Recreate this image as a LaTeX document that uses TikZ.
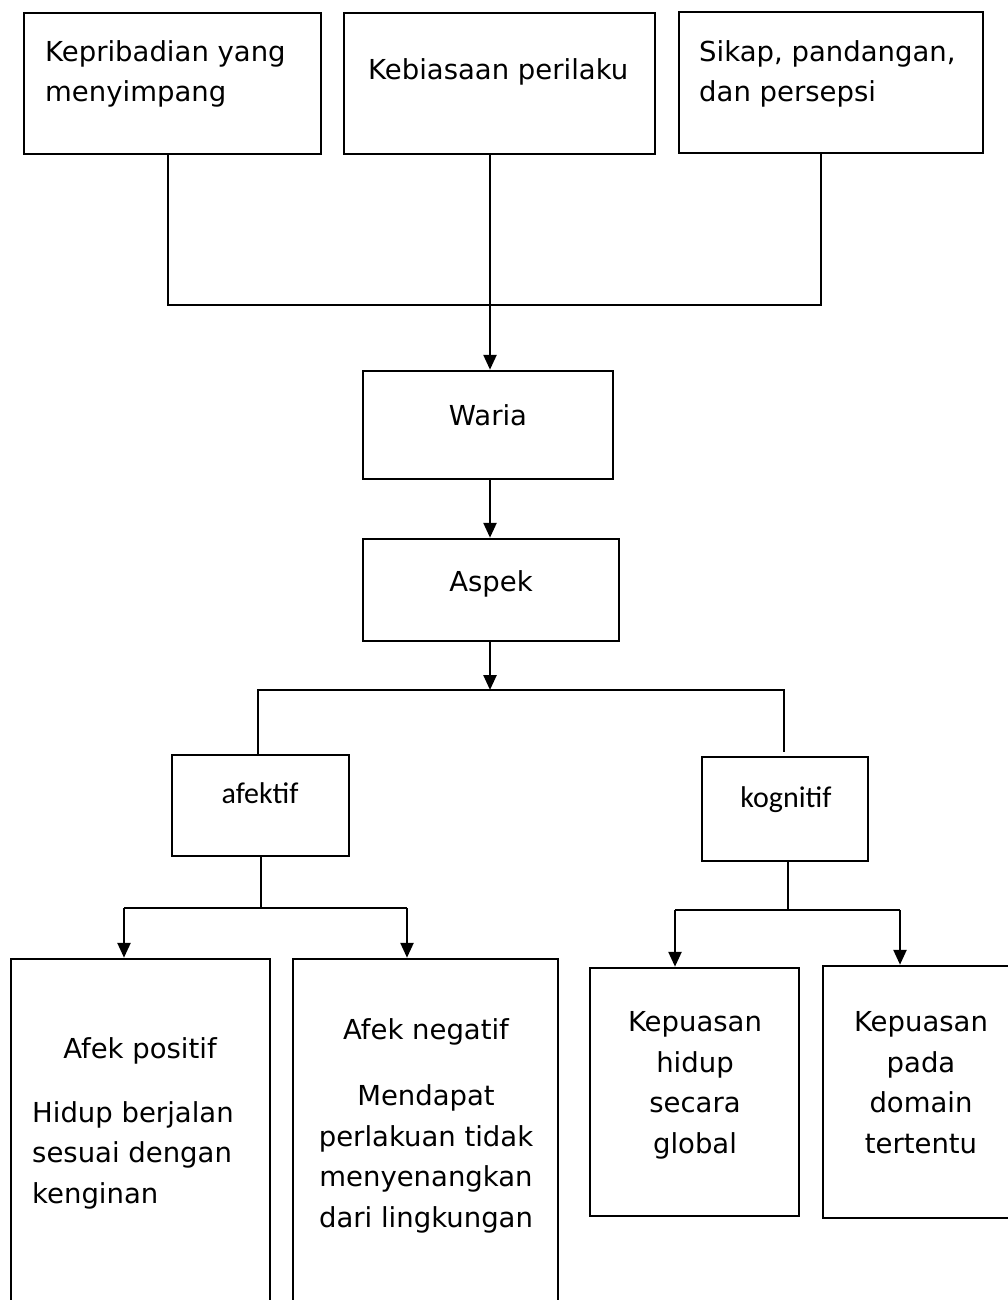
\documentclass[tikz,border=0pt]{standalone}
\usepackage{fontspec}
\setmainfont{DejaVu Sans}
\newfontfamily\calib{Carlito}
\usetikzlibrary{arrows.meta}
\begin{document}
\begin{tikzpicture}[x=1pt,y=-1pt,
  box/.style={draw, line width=2.5pt, inner sep=0pt},
  conn/.style={line width=2.5pt},
  arr/.style={line width=2.5pt, -{Triangle[width=13pt,length=15pt]}},
  txt/.style={inner sep=0pt, font=\fontsize{27.5}{40.5}\selectfont},
  ctxt/.style={inner sep=0pt, font=\calib\fontsize{30}{36}\selectfont}]
\useasboundingbox[fill=white] (0,0) rectangle (1008,1300);
\clip (0,0) rectangle (1008,1300);
% boxes
\node[box, minimum width=297pt, minimum height=141pt] (b1) at (172.5,83.5) {};
\node[box, minimum width=311pt, minimum height=141pt] (b2) at (499.5,83.5) {};
\node[box, minimum width=304pt, minimum height=141pt] (b3) at (831,82.5) {};
\node[box, minimum width=250pt, minimum height=108pt] (waria) at (488,425) {};
\node[box, minimum width=256pt, minimum height=102pt] (aspek) at (491,590) {};
\node[box, minimum width=177pt, minimum height=101pt] (afek) at (260.5,805.5) {};
\node[box, minimum width=166pt, minimum height=104pt] (kog) at (785,809) {};
\node[box, minimum width=259pt, minimum height=361pt] (ap) at (140.5,1139.5) {};
\node[box, minimum width=265pt, minimum height=361pt] (an) at (425.5,1139.5) {};
\node[box, minimum width=209pt, minimum height=248pt] (kh) at (694.5,1092) {};
\node[box, minimum width=197pt, minimum height=252pt] (kd) at (921.5,1092) {};
% texts (multi-line nodes anchored at the baseline of their last line)
\node[txt, anchor=base west, align=left] (t1) at (45,102) {Kepribadian yang\\menyimpang};
\node[txt, anchor=base west] (t2) at (368,80) {Kebiasaan perilaku};
\node[txt, anchor=base west, align=left] (t3) at (699,102) {Sikap, pandangan,\\dan persepsi};
\node[txt, anchor=base] (twaria) at (488,425) {Waria};
\node[txt, anchor=base] (taspek) at (491,591) {Aspek};
\node[ctxt, anchor=base] (tafek) at (260,803) {afektif};
\node[ctxt, anchor=base] (tkog) at (786,807) {kognitif};
\node[txt, anchor=base] (tap1) at (140,1058) {Afek positif};
\node[txt, anchor=base west, align=left] (tap2) at (32,1203) {Hidup berjalan\\sesuai dengan\\kenginan};
\node[txt, anchor=base] (tan1) at (426,1039) {Afek negatif};
\node[txt, anchor=base, align=center] (tan2) at (426,1227) {Mendapat\\perlakuan tidak\\menyenangkan\\dari lingkungan};
\node[txt, anchor=base, align=center] (tkh) at (695,1153) {Kepuasan\\hidup\\secara\\global};
\node[txt, anchor=base, align=center] (tkd) at (921,1153) {Kepuasan\\pada\\domain\\tertentu};
% junctions
\coordinate (jL) at (168,305);
\coordinate (jM) at (490,305);
\coordinate (jR) at (821,305);
\coordinate (kM) at (490,690);
\coordinate (kL) at (258,690);
\coordinate (kR) at (784,690);
\coordinate (kRend) at (784,752);
\coordinate (aM) at (261,908);
\coordinate (aL) at (124,908);
\coordinate (aR) at (407,908);
\coordinate (gM) at (788,910);
\coordinate (gL) at (675,910);
\coordinate (gR) at (900,910);
% connectors
\draw[conn] (b1.south -| jL) -- (jL) -- (jR) -- (b3.south -| jR);
\draw[conn] (b2.south -| jM) -- (jM);
\draw[arr] (jM) -- (waria.north -| jM);
\draw[arr] (waria.south -| jM) -- (aspek.north -| jM);
\draw[arr] (aspek.south -| kM) -- (kM);
\draw[conn] (afek.north -| kL) -- (kL) -- (kR) -- (kRend);
\draw[conn] (afek.south -| aM) -- (aM);
\draw[conn] (aL) -- (aR);
\draw[arr] (aL) -- (ap.north -| aL);
\draw[arr] (aR) -- (an.north -| aR);
\draw[conn] (kog.south -| gM) -- (gM);
\draw[conn] (gL) -- (gR);
\draw[arr] (gL) -- (kh.north -| gL);
\draw[arr] (gR) -- (kd.north -| gR);
\end{tikzpicture}
\end{document}
